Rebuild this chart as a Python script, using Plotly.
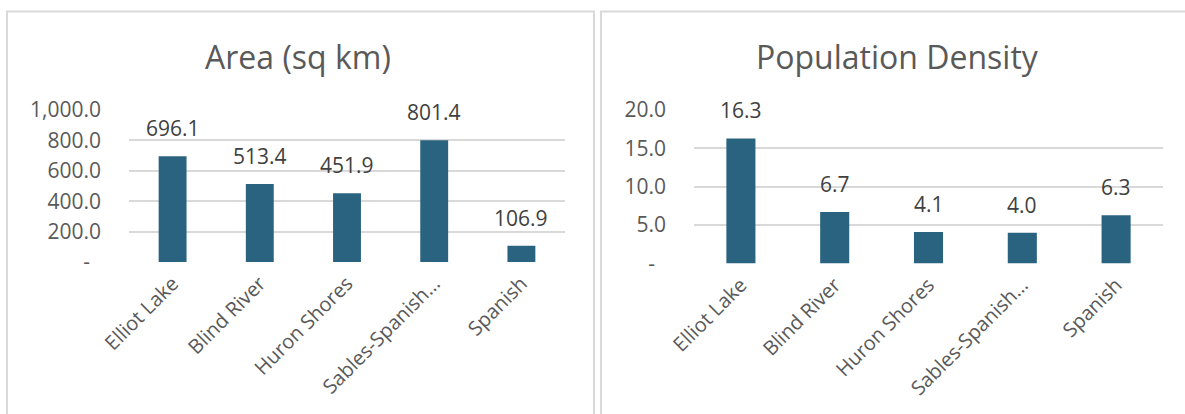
import plotly.graph_objects as go

# ---- data ----
categories = ["Elliot Lake", "Blind River", "Huron Shores", "Sables-Spanish…", "Spanish"]
area_sq_km = [696.1, 513.4, 451.9, 801.4, 106.9]
pop_density = [16.3, 6.7, 4.1, 4.0, 6.3]
area_labels = ["696.1", "513.4", "451.9", "801.4", "106.9"]
density_labels = ["16.3", "6.7", "4.1", "4.0", "6.3"]
area_tickvals = [0, 200, 400, 600, 800, 1000]
area_ticktext = ["-\u00a0\u00a0", "200.0", "400.0", "600.0", "800.0", "1,000.0"]
density_tickvals = [0, 5, 10, 15, 20]
density_ticktext = ["-\u00a0\u00a0", "5.0", "10.0", "15.0", "20.0"]
titles = ["Area (sq km)", "Population Density"]

# ---- style ----
W, H = 1185, 414
FONT = "Open Sans"
BAR = "#2A6380"
GRID = "#D9D9D9"
TXT = "#595959"
LBL = "#404040"

def px(x):
    return x / W

def py(y):
    return 1 - y / H

fig = go.Figure()
fig.add_trace(go.Bar(x=categories, y=area_sq_km, xaxis="x", yaxis="y",
                     marker=dict(color=BAR, line=dict(width=0)), width=0.32,
                     hoverinfo="x+y"))
fig.add_trace(go.Bar(x=categories, y=pop_density, xaxis="x2", yaxis="y2",
                     marker=dict(color=BAR, line=dict(width=0)), width=0.31,
                     hoverinfo="x+y"))

xtickfont = dict(family=FONT, size=20, color=TXT)
ytickfont = dict(family=FONT, size=21, color=TXT)
xcommon = dict(type="category", tickangle=-45, tickfont=xtickfont, showgrid=False,
               showline=False, zeroline=False, ticks="", ticklabelstandoff=5,
               automargin=False)
ycommon = dict(tickfont=ytickfont, showgrid=True, gridcolor=GRID, gridwidth=1.5,
               zeroline=False, showline=False, ticks="", ticklabelstandoff=27,
               automargin=False)

fig.update_layout(
    template="none",
    width=W, height=H,
    margin=dict(l=0, r=0, t=0, b=0, pad=0),
    paper_bgcolor="white", plot_bgcolor="white",
    showlegend=False, bargap=0.68,
    font=dict(family=FONT, color=TXT),
    xaxis=dict(domain=[px(129), px(565)], anchor="y", **xcommon),
    yaxis=dict(domain=[py(262), py(110)], anchor="x", range=[0, 1000],
               tickvals=area_tickvals, ticktext=area_ticktext, **ycommon),
    xaxis2=dict(domain=[px(694), px(1163)], anchor="y2", **xcommon),
    yaxis2=dict(domain=[py(263.5), py(110)], anchor="x2", range=[0, 20],
                tickvals=density_tickvals, ticktext=density_ticktext, **ycommon),
)

# panel borders
fig.add_shape(type="rect", xref="paper", yref="paper",
              x0=px(7), x1=px(594), y0=-0.2, y1=py(11.5),
              line=dict(color=GRID, width=2), fillcolor="rgba(0,0,0,0)", layer="below")
fig.add_shape(type="rect", xref="paper", yref="paper",
              x0=px(601), x1=1.2, y0=-0.2, y1=py(11.5),
              line=dict(color=GRID, width=2), fillcolor="rgba(0,0,0,0)", layer="below")

# titles
for t, cx in zip(titles, [298, 897]):
    fig.add_annotation(text=t, xref="paper", yref="paper", x=px(cx), y=py(57),
                       xanchor="center", yanchor="middle", showarrow=False,
                       font=dict(family=FONT, size=32, color=TXT))

# data labels
for c, v, s in zip(categories, area_sq_km, area_labels):
    fig.add_annotation(text=s, x=c, y=v, xref="x", yref="y", showarrow=False,
                       xanchor="center", yanchor="bottom", yshift=12,
                       font=dict(family=FONT, size=21, color=LBL))
for c, v, s in zip(categories, pop_density, density_labels):
    fig.add_annotation(text=s, x=c, y=v, xref="x2", yref="y2", showarrow=False,
                       xanchor="center", yanchor="bottom", yshift=12,
                       font=dict(family=FONT, size=21, color=LBL))

fig.write_html("out.html")
